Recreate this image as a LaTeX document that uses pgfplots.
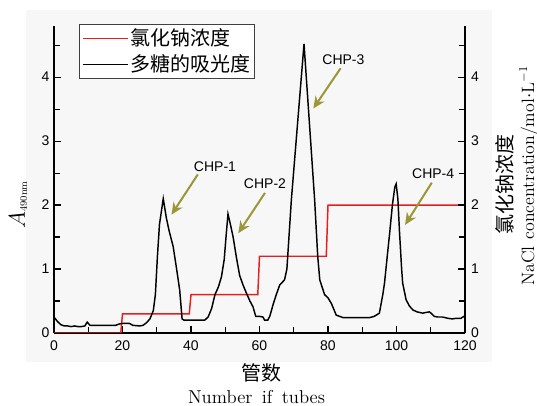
\documentclass[border=0pt]{standalone}
\usepackage{pgfplots}
\pgfplotsset{compat=1.18}
\usepackage{fontspec}
\newfontfamily\cjk{Noto Sans CJK SC}
\newfontfamily\arial{Liberation Sans}
\usetikzlibrary{arrows.meta}
\definecolor{olivearrow}{RGB}{155,150,55}
\definecolor{nacl}{RGB}{230,30,30}
\begin{document}
\begin{tikzpicture}[x=1pt,y=1pt]
\useasboundingbox (0,0) rectangle (402.75,304.5);
\fill[black!3] (19.5,33) rectangle (369,297);
\begin{axis}[
  at={(40.5pt,54.75pt)}, anchor=south west,
  scale only axis, width=308.25pt, height=230.25pt,
  xmin=0, xmax=120, ymin=0, ymax=4.8,
  axis x line*=bottom, axis y line*=left,
  axis line style={-, line width=1.1pt},
  tick align=inside,
  xtick={0,20,...,120}, minor xtick={10,30,...,110},
  ytick={0,1,2,3,4}, minor ytick={0.5,1.5,2.5,3.5,4.5},
  major tick length=5pt, minor tick length=4.5pt,
  every tick/.style={line width=0.9pt, black},
  tick label style={font=\arial\fontsize{10.5}{12}\selectfont},
  /pgf/number format/assume math mode=true,
  xticklabel style={yshift=-2pt},
  legend cell align=left,
  legend style={at={(0.061,1.0065)}, anchor=north west, draw=black!75, line width=0.6pt,
    fill=white, font=\cjk\fontsize{15}{18}\selectfont, inner sep=2pt,
    nodes={inner sep=1.2pt}, row sep=3pt},
  legend image code/.code={\draw[#1, line width=0.8pt] (0pt,0pt) -- (34pt,0pt);},
]
\addplot[nacl, line width=1.1pt] coordinates {
(0,0)(19.5,0)(20,0.3)(39.5,0.3)(40,0.6)(59.5,0.6)(60,1.2)(79.5,1.2)(80,2.0)(120,2.0)};
\addlegendentry{氯化钠浓度}
\addplot[black, line width=1.1pt] coordinates {
(0,0.25)(1,0.18)(2,0.13)(3,0.11)(4,0.11)(5,0.1)(6,0.11)(7,0.1)(8,0.1)(9,0.11)(9.7,0.17)(10.5,0.12)
(12,0.12)(14,0.12)(16,0.12)(18,0.12)(19,0.14)(20,0.15)(22,0.15)(23,0.12)(25,0.11)(26,0.12)
(27,0.16)(28,0.22)(29,0.35)(29.6,0.6)(30.2,1.2)(30.8,1.7)(31.9,2.1)(32.8,1.8)(33.6,1.6)
(34.8,1.35)(35.8,1.0)(36.7,0.67)(37.4,0.22)(38,0.2)(40,0.2)(42,0.2)(44,0.2)(45,0.25)(46,0.38)
(47,0.6)(48,0.72)(48.9,0.88)(49.7,1.15)(50.3,1.55)(50.8,1.86)(51.5,1.7)(52.3,1.5)(53.2,1.2)
(54.2,0.9)(55.2,0.75)(56.2,0.62)(57.2,0.5)(58.1,0.41)(58.9,0.26)(60,0.26)(61,0.25)(61.5,0.2)
(62.4,0.2)(63,0.26)(64,0.45)(64.9,0.6)(65.9,0.75)(67.3,0.83)(68,1.0)(69.3,2.08)(73,4.52)
(76.1,2.08)(77,1.2)(77.6,0.83)(79,0.6)(80,0.55)(81,0.46)(82.4,0.28)(84.4,0.24)(86,0.24)
(88,0.24)(90,0.24)(92.1,0.24)(93.5,0.26)(95,0.31)(96,0.6)(96.5,0.78)(97.3,1.2)(98,1.56)
(98.8,2.0)(99.5,2.28)(99.9,2.33)(100.4,2.1)(100.9,1.56)(101.5,1.0)(101.8,0.78)(102.8,0.52)
(103.8,0.42)(104.8,0.36)(106,0.33)(107.7,0.31)(108.5,0.32)(109.6,0.33)(110.3,0.3)(111,0.26)
(112,0.25)(113.4,0.25)(115,0.23)(116.3,0.22)(117.5,0.23)(118.8,0.23)(120,0.27)};
\addlegendentry{多糖的吸光度}
\draw[olivearrow, line width=1.5pt, -{Stealth[length=9pt,width=8pt]}] (axis cs:42,2.48) -- (axis cs:34.3,1.85);
\draw[olivearrow, line width=1.5pt, -{Stealth[length=9pt,width=8pt]}] (axis cs:61.6,2.19) -- (axis cs:53.8,1.56);
\draw[olivearrow, line width=1.5pt, -{Stealth[length=9pt,width=8pt]}] (axis cs:83.7,4.14) -- (axis cs:75.7,3.51);
\draw[olivearrow, line width=1.5pt, -{Stealth[length=9pt,width=8pt]}] (axis cs:110.3,2.35) -- (axis cs:102.5,1.69);
\node[font=\arial\fontsize{10.5}{12}\selectfont] at (axis cs:47,2.6) {CHP-1};
\node[font=\arial\fontsize{10.5}{12}\selectfont] at (axis cs:61.6,2.34) {CHP-2};
\node[font=\arial\fontsize{10.5}{12}\selectfont] at (axis cs:84.5,4.28) {CHP-3};
\node[font=\arial\fontsize{10.5}{12}\selectfont] at (axis cs:110.7,2.49) {CHP-4};
\end{axis}
\begin{axis}[
  at={(40.5pt,54.75pt)}, anchor=south west,
  scale only axis, width=308.25pt, height=230.25pt,
  xmin=0, xmax=120, ymin=0, ymax=4.8,
  axis x line=none, axis y line*=right,
  axis line style={-, line width=1.1pt},
  tick align=inside,
  ytick={0,1,2,3,4}, minor ytick={0.5,1.5,2.5,3.5,4.5},
  major tick length=5pt, minor tick length=4.5pt,
  every tick/.style={line width=0.9pt, black},
  tick label style={font=\arial\fontsize{10.5}{12}\selectfont},
  /pgf/number format/assume math mode=true,
  yticklabel style={xshift=1pt},
]
\addplot[draw=none] coordinates {(0,0)(120,4.8)};
\end{axis}
\node[rotate=90] at (13.5,150.75) {{\fontsize{16}{18}\selectfont$A$}\raisebox{-1.5pt}{\fontsize{7.5}{9}\selectfont 490nm}};
\node at (196.5,25.1) {\cjk\fontsize{15}{18}\selectfont 管数};
\node at (192.4,6.75) {\fontsize{14}{16}\selectfont Number\hspace{0.5em}if\hspace{0.5em}tubes};
\node[rotate=90] at (378.5,165.75) {\cjk\fontsize{15}{18}\selectfont 氯化钠浓度};
\node[rotate=90] at (396.8,172.5) {\fontsize{13.4}{15}\selectfont NaCl\hspace{0.4em}concentration/mol$\cdot$L$^{-1}$};
\end{tikzpicture}
\end{document}
